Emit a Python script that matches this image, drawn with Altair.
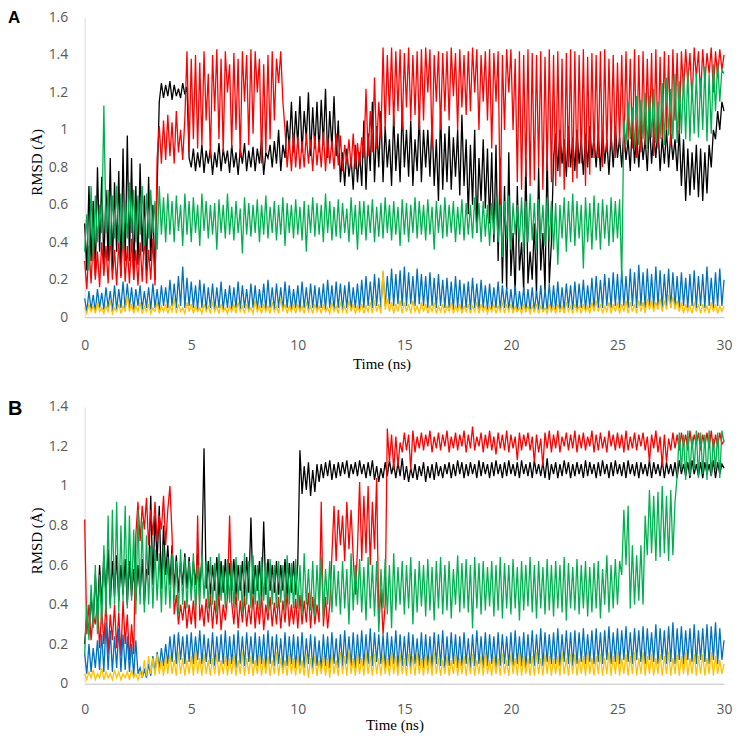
import altair as alt
import pandas as pd

# time axis: one sample every 0.1 ns from 0 to 30 ns
time_ns = [i / 10 for i in range(301)]

# RMSD values in hundredths of an angstrom, 10 samples per ns
# ---------------- Panel A ----------------
a_black = [
    50, 25, 70, 30, 62, 22, 80, 35, 75, 28,
    68, 30, 85, 25, 72, 35, 78, 22, 90, 30,
    97, 30, 85, 20, 70, 28, 82, 35, 65, 25,
    75, 30, 60, 20, 70, 115, 125, 117, 124, 118,
    126, 116, 124, 118, 122, 117, 125, 119, 123, 85,
    80, 90, 78, 88, 80, 92, 77, 89, 82, 90,
    76, 88, 80, 93, 78, 90, 82, 89, 77, 92,
    80, 88, 76, 90, 82, 93, 78, 89, 80, 91,
    78, 90, 82, 95, 76, 88, 85, 92, 80, 94,
    82, 100, 78, 92, 85, 105, 90, 115, 88, 110,
    92, 118, 88, 110, 95, 120, 86, 112, 90, 115,
    88, 116, 92, 122, 85, 110, 90, 118, 86, 105,
    72, 88, 70, 90, 75, 85, 68, 92, 72, 88,
    70, 105, 68, 98, 78, 115, 72, 102, 80, 110,
    72, 102, 80, 95, 70, 108, 78, 98, 72, 112,
    80, 100, 75, 105, 70, 95, 78, 108, 72, 100,
    80, 100, 75, 105, 70, 95, 62, 110, 68, 98,
    72, 102, 68, 96, 75, 100, 65, 108, 70, 95,
    55, 92, 60, 100, 45, 85, 62, 95, 58, 90,
    50, 88, 40, 92, 30, 85, 18, 70, 15, 88,
    22, 45, 12, 70, 25, 40, 14, 85, 18, 35,
    20, 50, 12, 80, 25, 45, 14, 90, 18, 40,
    85, 98, 78, 100, 82, 95, 75, 102, 80, 96,
    78, 100, 82, 95, 76, 98, 80, 102, 85, 96,
    80, 98, 78, 100, 82, 95, 76, 98, 80, 102,
    85, 96, 80, 100, 84, 95, 78, 105, 82, 98,
    80, 100, 84, 95, 78, 105, 82, 98, 85, 102,
    78, 96, 82, 100, 80, 98, 84, 95, 78, 100,
    70, 95, 62, 90, 65, 88, 68, 92, 64, 90,
    62, 88, 66, 92, 80, 100, 95, 110, 100, 115,
    110,
]
a_red = [
    30, 15, 38, 18, 42, 20, 35, 16, 40, 22,
    38, 18, 44, 20, 36, 17, 40, 21, 45, 19,
    38, 18, 42, 20, 36, 17, 40, 19, 44, 18,
    36, 20, 42, 17, 85, 102, 82, 105, 84, 108,
    86, 104, 82, 110, 88, 100, 84, 106, 142, 88,
    138, 95, 140, 90, 136, 92, 142, 105, 130, 85,
    140, 110, 143, 95, 138, 88, 142, 120, 135, 90,
    141, 100, 138, 85, 142, 115, 140, 92, 143, 98,
    142, 120, 138, 82, 135, 88, 140, 95, 142, 105,
    138, 125, 142, 115, 100, 80, 95, 78, 98, 80,
    96, 79, 94, 80, 98, 82, 95, 78, 97, 81,
    95, 80, 99, 78, 96, 82, 94, 79, 98, 81,
    97, 78, 92, 82, 95, 80, 98, 79, 93, 81,
    96, 85, 122, 86, 110, 88, 128, 90, 115, 95,
    144, 100, 140, 108, 144, 102, 142, 110, 143, 100,
    141, 112, 144, 105, 140, 108, 142, 100, 143, 105,
    144, 120, 143, 90, 140, 115, 142, 100, 141, 110,
    142, 105, 144, 118, 141, 100, 143, 112, 140, 108,
    142, 110, 144, 120, 143, 100, 140, 115, 142, 105,
    143, 90, 141, 115, 142, 55, 140, 100, 143, 120,
    143, 100, 138, 72, 142, 68, 140, 75, 143, 70,
    141, 73, 140, 80, 142, 68, 139, 78, 143, 72,
    140, 70, 142, 75, 138, 68, 141, 80, 143, 72,
    142, 74, 140, 82, 143, 70, 139, 76, 141, 85,
    140, 85, 142, 80, 143, 88, 138, 90, 140, 85,
    136, 92, 140, 88, 142, 95, 138, 90, 143, 85,
    140, 88, 142, 92, 138, 95, 141, 86, 143, 90,
    139, 95, 142, 100, 140, 92, 143, 105, 141, 98,
    142, 120, 143, 125, 141, 115, 144, 128, 142, 118,
    143, 125, 141, 130, 144, 120, 142, 128, 143, 132,
    140,
]
a_green = [
    35, 55, 25, 70, 30, 65, 40, 60, 45, 113,
    45, 68, 38, 65, 42, 70, 40, 66, 36, 62,
    42, 72, 45, 68, 40, 65, 44, 70, 38, 66,
    42, 68, 45, 62, 36, 70, 44, 64, 40, 66,
    44, 62, 40, 65, 46, 60, 38, 66, 44, 62,
    40, 64, 45, 60, 38, 66, 46, 62, 42, 60,
    44, 61, 36, 63, 45, 60, 42, 66, 44, 59,
    41, 62, 45, 58, 34, 64, 44, 61, 43, 60,
    45, 63, 40, 60, 44, 65, 42, 59, 45, 62,
    41, 60, 44, 64, 38, 61, 45, 60, 42, 63,
    44, 59, 41, 62, 35, 60, 45, 64, 43, 61,
    44, 60, 40, 66, 45, 62, 41, 59, 43, 63,
    42, 61, 45, 58, 40, 64, 44, 60, 36, 62,
    44, 62, 41, 60, 45, 63, 40, 59, 43, 61,
    42, 64, 45, 60, 41, 62, 44, 59, 38, 63,
    44, 61, 40, 60, 45, 64, 42, 62, 44, 60,
    41, 63, 44, 59, 36, 62, 45, 60, 42, 64,
    43, 60, 45, 62, 40, 59, 44, 63, 41, 61,
    44, 60, 42, 64, 45, 61, 40, 62, 43, 60,
    38, 61, 44, 64, 40, 60, 32, 62, 42, 65,
    36, 61, 44, 60, 40, 64, 35, 62, 40, 66,
    41, 61, 36, 63, 42, 60, 38, 64, 40, 62,
    36, 61, 28, 60, 42, 64, 35, 62, 40, 66,
    38, 62, 42, 60, 26, 64, 40, 61, 36, 65,
    41, 61, 36, 63, 42, 60, 38, 64, 40, 62,
    42, 63, 20, 105, 92, 115, 95, 112, 90, 118,
    92, 116, 95, 120, 90, 118, 96, 122, 93, 115,
    95, 125, 92, 128, 97, 122, 95, 130, 93, 126,
    98, 130, 95, 132, 94, 126, 98, 130, 96, 128,
    100, 134, 94, 130, 98, 135, 110, 136, 115, 132,
    130,
]
a_blue = [
    10, 3, 14, 4, 12, 3, 15, 5, 13, 4,
    16, 5, 14, 3, 17, 4, 15, 5, 19, 4,
    18, 5, 16, 4, 15, 6, 17, 4, 14, 5,
    16, 4, 18, 5, 15, 4, 17, 6, 16, 5,
    20, 6, 18, 5, 22, 6, 27, 5, 21, 6,
    19, 5, 17, 4, 20, 5, 18, 4, 16, 5,
    18, 4, 16, 5, 19, 4, 15, 5, 17, 4,
    16, 5, 19, 4, 17, 5, 15, 4, 18, 5,
    17, 4, 15, 5, 18, 4, 20, 5, 16, 4,
    18, 5, 16, 4, 19, 5, 17, 4, 15, 5,
    17, 4, 19, 5, 16, 4, 18, 5, 17, 4,
    16, 5, 18, 4, 20, 5, 17, 4, 19, 5,
    18, 4, 17, 5, 19, 4, 16, 5, 18, 4,
    20, 5, 22, 6, 19, 5, 23, 6, 21, 5,
    24, 6, 22, 7, 26, 6, 23, 7, 25, 6,
    27, 6, 24, 7, 22, 6, 26, 7, 23, 6,
    22, 5, 24, 6, 21, 5, 23, 6, 20, 5,
    21, 5, 19, 4, 22, 5, 20, 4, 18, 5,
    19, 4, 21, 5, 18, 4, 20, 5, 17, 4,
    18, 4, 16, 5, 19, 4, 17, 5, 16, 4,
    15, 4, 17, 3, 14, 4, 16, 3, 15, 4,
    16, 3, 14, 4, 17, 3, 15, 4, 18, 3,
    17, 4, 19, 3, 16, 4, 18, 5, 17, 4,
    19, 4, 18, 5, 20, 4, 17, 5, 21, 4,
    22, 5, 20, 5, 23, 6, 21, 5, 24, 6,
    23, 5, 25, 6, 22, 5, 26, 6, 24, 5,
    28, 6, 24, 5, 26, 6, 23, 5, 27, 6,
    25, 5, 23, 6, 26, 5, 24, 6, 22, 5,
    24, 6, 21, 5, 23, 6, 25, 5, 22, 6,
    23, 5, 27, 6, 21, 5, 24, 6, 26, 6,
    20,
]
a_yellow = [
    5, 2, 7, 3, 6, 2, 8, 3, 5, 2,
    6, 3, 9, 2, 5, 3, 7, 2, 6, 3,
    12, 3, 7, 2, 6, 3, 8, 2, 6, 3,
    7, 2, 5, 3, 8, 2, 6, 3, 7, 2,
    6, 3, 10, 2, 7, 3, 5, 2, 8, 3,
    7, 2, 6, 3, 5, 2, 7, 3, 6, 2,
    8, 3, 6, 2, 7, 3, 5, 2, 6, 3,
    7, 2, 8, 3, 6, 2, 7, 3, 5, 2,
    9, 3, 6, 2, 7, 3, 6, 2, 8, 3,
    6, 2, 10, 3, 7, 2, 6, 3, 7, 2,
    7, 3, 6, 2, 8, 3, 6, 2, 7, 3,
    6, 2, 7, 3, 5, 2, 8, 3, 6, 2,
    8, 3, 6, 2, 9, 3, 7, 2, 6, 3,
    7, 2, 6, 3, 8, 2, 9, 3, 7, 2,
    25, 4, 10, 3, 8, 2, 7, 3, 9, 2,
    8, 3, 7, 2, 9, 3, 6, 2, 8, 3,
    7, 2, 6, 3, 8, 2, 6, 3, 7, 2,
    6, 3, 8, 2, 6, 3, 7, 2, 6, 3,
    7, 2, 6, 3, 8, 2, 7, 3, 6, 2,
    6, 3, 7, 2, 6, 3, 8, 2, 7, 3,
    7, 2, 6, 3, 5, 2, 7, 3, 6, 2,
    6, 3, 7, 2, 6, 3, 5, 2, 7, 3,
    6, 2, 7, 3, 6, 2, 8, 3, 6, 2,
    7, 3, 6, 2, 7, 3, 6, 2, 8, 3,
    9, 3, 7, 2, 6, 3, 8, 2, 7, 3,
    8, 2, 7, 3, 9, 2, 8, 3, 7, 2,
    9, 3, 8, 2, 10, 4, 9, 3, 8, 4,
    10, 3, 9, 4, 12, 5, 11, 4, 9, 3,
    8, 2, 7, 3, 6, 2, 8, 3, 7, 2,
    7, 3, 6, 2, 8, 3, 7, 2, 6, 3,
    6,
]

# ---------------- Panel B ----------------
b_black = [
    20, 35, 25, 45, 30, 55, 35, 60, 40, 65,
    45, 68, 40, 62, 44, 65, 42, 60, 45, 63,
    40, 62, 44, 58, 42, 60, 45, 63, 40, 58,
    55, 95, 50, 85, 62, 90, 48, 80, 55, 70,
    50, 70, 48, 65, 46, 62, 50, 66, 48, 64,
    46, 62, 50, 66, 48, 63, 119, 48, 62, 45,
    60, 47, 64, 44, 62, 46, 63, 45, 61, 47,
    63, 45, 60, 47, 62, 44, 64, 46, 84, 45,
    60, 47, 62, 44, 82, 45, 63, 47, 60, 46,
    62, 45, 60, 47, 63, 44, 61, 46, 62, 45,
    61, 118, 96, 110, 98, 112, 95, 108, 97, 111,
    102, 111, 104, 112, 105, 113, 103, 111, 104, 112,
    105, 112, 106, 113, 104, 111, 106, 112, 105, 113,
    106, 111, 104, 112, 105, 113, 103, 110, 102, 109,
    104, 112, 105, 113, 106, 111, 104, 112, 105, 114,
    103, 110, 102, 109, 104, 111, 103, 110, 105, 112,
    102, 110, 104, 111, 103, 112, 105, 110, 104, 111,
    106, 112, 104, 111, 105, 113, 106, 112, 104, 111,
    105, 112, 106, 111, 104, 113, 105, 112, 106, 111,
    104, 112, 105, 113, 106, 111, 104, 112, 105, 113,
    106, 111, 105, 112, 104, 113, 106, 111, 105, 112,
    104, 113, 106, 111, 105, 112, 104, 114, 103, 111,
    106, 112, 104, 111, 105, 113, 106, 112, 104, 111,
    105, 112, 106, 111, 104, 113, 105, 112, 106, 111,
    104, 112, 105, 113, 106, 111, 104, 112, 105, 113,
    106, 111, 105, 112, 104, 113, 106, 111, 105, 112,
    104, 112, 106, 111, 105, 113, 104, 112, 106, 111,
    105, 113, 104, 112, 106, 111, 105, 112, 104, 113,
    106, 111, 105, 112, 104, 113, 106, 111, 105, 112,
    104, 112, 106, 111, 105, 113, 104, 112, 106, 111,
    109,
]
b_red = [
    83, 25, 40, 22, 35, 30, 42, 18, 38, 20,
    42, 15, 35, 22, 40, 18, 36, 14, 42, 20,
    35, 12, 30, 15, 75, 92, 72, 90, 78, 94,
    70, 88, 75, 92, 72, 85, 78, 95, 70, 88,
    100, 75, 35, 45, 30, 40, 32, 42, 28, 40,
    30, 42, 28, 85, 32, 40, 29, 43, 31, 45,
    28, 42, 30, 45, 27, 40, 32, 44, 85, 41,
    30, 46, 28, 42, 31, 44, 29, 40, 30, 45,
    28, 42, 30, 45, 27, 40, 32, 44, 29, 41,
    30, 44, 28, 42, 31, 46, 29, 40, 30, 43,
    28, 45, 30, 42, 31, 46, 28, 44, 30, 40,
    31, 92, 29, 44, 28, 40, 65, 90, 62, 88,
    70, 85, 62, 92, 68, 88, 64, 45, 68, 102,
    62, 95, 66, 100, 60, 92, 68, 104, 30, 48,
    25, 40, 129, 112, 126, 108, 125, 110, 122, 117,
    127, 118, 126, 108, 128, 117, 125, 119, 127, 118,
    126, 120, 128, 117, 125, 119, 127, 118, 126, 120,
    128, 117, 125, 119, 127, 118, 126, 120, 128, 117,
    126, 119, 130, 118, 125, 120, 127, 117, 126, 119,
    128, 118, 125, 116, 127, 119, 126, 118, 128, 117,
    126, 119, 125, 113, 127, 118, 126, 120, 127, 118,
    125, 112, 126, 117, 124, 110, 127, 119, 128, 117,
    126, 119, 128, 117, 125, 120, 127, 118, 126, 119,
    128, 117, 126, 119, 127, 118, 125, 120, 128, 117,
    126, 118, 127, 119, 125, 117, 128, 120, 126, 118,
    127, 119, 126, 117, 128, 118, 125, 119, 127, 118,
    126, 120, 127, 118, 125, 112, 126, 119, 128, 117,
    125, 110, 126, 112, 124, 118, 127, 119, 126, 118,
    127, 120, 126, 118, 128, 119, 126, 121, 127, 118,
    126, 120, 127, 119, 128, 118, 126, 120, 127, 121,
    123,
]
b_green = [
    15, 40, 22, 50, 28, 60, 25, 55, 30, 70,
    35, 85, 38, 88, 40, 92, 36, 80, 42, 90,
    38, 85, 42, 78, 35, 88, 40, 82, 36, 75,
    40, 70, 38, 68, 42, 66, 36, 70, 40, 64,
    38, 66, 42, 62, 35, 68, 40, 64, 38, 62,
    42, 66, 37, 60, 40, 65, 43, 62, 38, 64,
    40, 61, 36, 66, 42, 60, 38, 63, 41, 62,
    38, 64, 42, 60, 36, 66, 40, 62, 38, 65,
    40, 60, 37, 64, 42, 61, 36, 63, 40, 60,
    38, 62, 41, 60, 37, 65, 40, 61, 38, 63,
    38, 60, 35, 66, 40, 58, 37, 62, 34, 60,
    38, 64, 33, 58, 40, 62, 36, 60, 39, 57,
    35, 62, 38, 58, 30, 66, 37, 60, 40, 63,
    36, 59, 32, 64, 38, 60, 34, 62, 26, 58,
    38, 63, 35, 60, 28, 66, 37, 59, 40, 62,
    35, 60, 38, 64, 30, 58, 36, 62, 39, 60,
    34, 63, 37, 59, 32, 62, 38, 64, 35, 60,
    37, 62, 33, 58, 40, 65, 36, 61, 38, 63,
    36, 60, 28, 64, 38, 61, 35, 62, 37, 59,
    39, 62, 34, 60, 37, 64, 33, 61, 38, 60,
    35, 63, 38, 59, 32, 62, 37, 60, 39, 64,
    36, 60, 33, 62, 38, 59, 35, 63, 37, 60,
    34, 62, 38, 60, 36, 64, 32, 61, 38, 59,
    37, 63, 35, 60, 38, 62, 34, 59, 36, 61,
    38, 62, 33, 58, 40, 65, 36, 60, 38, 63,
    40, 62, 55, 88, 60, 90, 38, 70, 40, 65,
    42, 70, 40, 85, 65, 98, 66, 95, 62, 97,
    64, 100, 66, 95, 62, 98, 65, 92, 105, 127,
    108, 126, 103, 128, 105, 125, 108, 128, 104, 127,
    106, 126, 103, 128, 105, 124, 108, 127, 104, 128,
    122,
]
b_blue = [
    15, 5, 20, 6, 18, 8, 22, 7, 25, 6,
    31, 7, 27, 6, 24, 8, 28, 6, 25, 7,
    24, 6, 20, 4, 22, 5, 8, 3, 7, 3,
    10, 4, 14, 6, 16, 8, 18, 9, 20, 10,
    24, 11, 25, 10, 26, 12, 24, 10, 25, 11,
    26, 10, 24, 12, 27, 10, 25, 11, 23, 10,
    26, 9, 24, 11, 25, 10, 27, 9, 24, 10,
    25, 8, 27, 10, 24, 9, 26, 11, 24, 10,
    26, 9, 24, 10, 25, 8, 27, 10, 24, 9,
    25, 10, 23, 8, 26, 9, 24, 10, 25, 8,
    24, 9, 26, 8, 23, 10, 25, 7, 24, 9,
    22, 7, 25, 9, 24, 8, 26, 10, 23, 8,
    25, 9, 27, 10, 24, 9, 26, 8, 25, 10,
    27, 9, 25, 10, 28, 9, 26, 11, 25, 10,
    25, 8, 26, 9, 24, 10, 27, 8, 25, 9,
    24, 9, 26, 8, 25, 10, 23, 9, 26, 8,
    25, 9, 24, 8, 26, 10, 25, 9, 27, 8,
    24, 9, 26, 10, 25, 8, 24, 9, 26, 10,
    23, 8, 25, 9, 27, 10, 24, 8, 26, 9,
    25, 10, 24, 8, 26, 9, 25, 10, 24, 9,
    26, 9, 27, 10, 24, 9, 26, 8, 25, 10,
    27, 9, 25, 10, 28, 9, 26, 11, 25, 10,
    26, 10, 28, 9, 25, 11, 27, 10, 26, 9,
    27, 10, 26, 11, 28, 10, 25, 11, 27, 10,
    28, 11, 26, 10, 27, 12, 29, 10, 26, 11,
    28, 10, 27, 12, 29, 11, 26, 10, 28, 12,
    27, 11, 29, 10, 28, 12, 26, 11, 30, 10,
    28, 12, 27, 10, 29, 11, 31, 10, 28, 12,
    29, 10, 27, 12, 28, 11, 30, 10, 27, 12,
    28, 11, 30, 10, 29, 12, 31, 10, 28, 12,
    22,
]
b_yellow = [
    5, 2, 6, 3, 7, 2, 5, 3, 8, 2,
    6, 3, 5, 2, 7, 3, 6, 2, 5, 3,
    6, 2, 7, 3, 5, 2, 6, 3, 12, 4,
    14, 5, 13, 4, 15, 5, 12, 4, 14, 5,
    15, 5, 12, 4, 16, 5, 13, 4, 12, 5,
    14, 4, 17, 5, 13, 4, 15, 5, 12, 4,
    13, 5, 15, 4, 12, 5, 14, 4, 13, 5,
    15, 4, 12, 5, 16, 4, 13, 5, 14, 4,
    12, 5, 15, 4, 13, 5, 14, 4, 12, 5,
    16, 4, 13, 5, 12, 4, 15, 5, 13, 4,
    14, 5, 12, 4, 15, 3, 13, 5, 14, 4,
    12, 5, 14, 4, 13, 3, 15, 5, 12, 4,
    16, 5, 14, 4, 17, 5, 13, 4, 15, 5,
    13, 4, 16, 5, 14, 4, 15, 5, 13, 4,
    15, 5, 13, 4, 16, 5, 14, 4, 15, 5,
    13, 4, 15, 5, 14, 4, 16, 5, 13, 4,
    15, 5, 14, 4, 16, 5, 13, 4, 12, 5,
    14, 4, 12, 5, 15, 4, 13, 5, 14, 4,
    13, 5, 15, 4, 12, 5, 14, 4, 16, 5,
    12, 4, 14, 5, 13, 4, 15, 5, 12, 4,
    15, 5, 13, 4, 16, 4, 14, 5, 13, 4,
    14, 4, 16, 5, 13, 4, 15, 5, 14, 4,
    13, 5, 14, 4, 16, 5, 13, 4, 15, 5,
    15, 4, 13, 5, 14, 4, 16, 5, 13, 4,
    14, 5, 15, 4, 13, 5, 16, 4, 14, 5,
    16, 4, 13, 5, 15, 4, 14, 5, 16, 4,
    13, 5, 16, 4, 14, 5, 15, 4, 13, 5,
    15, 4, 14, 5, 16, 4, 13, 5, 15, 4,
    14, 5, 16, 4, 13, 5, 15, 4, 14, 5,
    15, 4, 13, 5, 16, 4, 14, 5, 12, 5,
    10,
]

series_names = ["black", "red", "blue", "yellow", "green"]  # drawing order
series_colors = {
    "black": "#000000",
    "red": "#FF0000",
    "blue": "#0070C0",
    "yellow": "#FFC000",
    "green": "#00B050",
}
x_ticks = [0, 5, 10, 15, 20, 25, 30]
a_yticks = [0, 0.2, 0.4, 0.6, 0.8, 1.0, 1.2, 1.4, 1.6]
b_yticks = [0, 0.2, 0.4, 0.6, 0.8, 1.0, 1.2, 1.4]
panel_labels = ["A", "B"]


def to_long(series):
    rows = []
    for name, vals in series.items():
        for t, v in zip(time_ns, vals):
            rows.append({"series": name, "t": t, "rmsd": v / 100})
    return pd.DataFrame(rows)


def panel(df, yticks, height, letter, letter_size, letter_y,
          x_label_pad, x_title_x, x_title_y, y_title_y):
    x = alt.X(
        "t:Q",
        scale=alt.Scale(domain=[0, 30], nice=False, zero=True),
        axis=alt.Axis(
            values=x_ticks, format="d", title="Time (ns)",
            ticks=False, tickSize=0, grid=False, labelFlush=False,
            domainColor="#BFBFBF", domainWidth=1,
            labelFont="Open Sans", labelFontSize=14, labelColor="#595959",
            labelPadding=x_label_pad,
            titleFont="Liberation Serif", titleFontSize=15,
            titleFontWeight="normal", titleColor="#000000",
            titleX=x_title_x, titleY=x_title_y,
            titleBaseline="middle", titleAlign="center",
        ),
    )
    y = alt.Y(
        "rmsd:Q",
        scale=alt.Scale(domain=[yticks[0], yticks[-1]], nice=False),
        axis=alt.Axis(
            values=yticks, format="~g", title="RMSD (Å)",
            ticks=False, tickSize=0, grid=False, labelFlush=False,
            domainColor="#D9D9D9", domainWidth=1,
            labelFont="Open Sans", labelFontSize=14, labelColor="#595959",
            labelPadding=17,
            titleFont="Liberation Serif", titleFontSize=15,
            titleFontWeight="normal", titleColor="#000000",
            titleX=-48, titleY=y_title_y,
            titleBaseline="middle", titleAlign="center", titleAngle=270,
        ),
    )
    layers = []
    for name in series_names:
        layers.append(
            alt.Chart(df)
            .transform_filter(alt.datum.series == name)
            .mark_line(color=series_colors[name], strokeWidth=1.3)
            .encode(x=x, y=y)
        )
    letter_layer = (
        alt.Chart(pd.DataFrame({"label": [letter]}))
        .mark_text(font="Liberation Sans", fontWeight="bold",
                   fontSize=letter_size, align="left",
                   baseline="alphabetic", color="#000000")
        .encode(text="label:N", x=alt.value(-77), y=alt.value(letter_y))
    )
    layers.append(letter_layer)
    return alt.layer(*layers).properties(width=642, height=height)


df_a = to_long({"black": a_black, "red": a_red, "blue": a_blue,
                "yellow": a_yellow, "green": a_green})
df_b = to_long({"black": b_black, "red": b_red, "blue": b_blue,
                "yellow": b_yellow, "green": b_green})

chart_a = panel(df_a, a_yticks, 301, panel_labels[0], 17, 6,
                21, 298, 46, 145)
chart_b = panel(df_b, b_yticks, 278, panel_labels[1], 20, 8,
                19, 311, 41, 134)

chart = (
    alt.vconcat(chart_a, chart_b, spacing=28)
    .properties(padding=0)
    .configure_view(stroke=None)
)

chart.save("out.html", embed_options={"renderer": "svg", "actions": False})
